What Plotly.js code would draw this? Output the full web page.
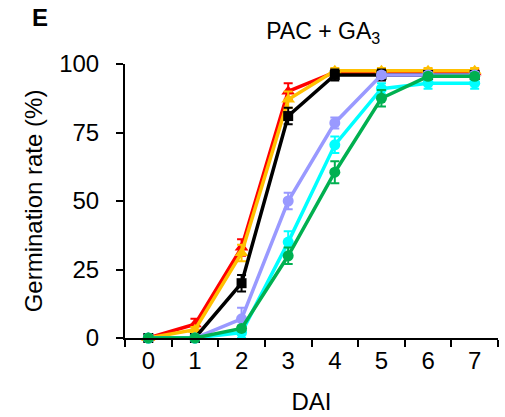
<!DOCTYPE html>
<html>
<head>
<meta charset="utf-8">
<script src="https://cdn.plot.ly/plotly-3.0.1.min.js"></script>
<style>html,body{margin:0;padding:0;background:#fff}#chart{width:505px;height:417px}</style>
</head>
<body>
<div id="chart"></div>
<script>
var days = ["0","1","2","3","4","5","6","7"];
var redVals    = [0, 5, 33, 90, 97, 97, 97, 97];
var redErr     = [0, 2, 3, 3, 1, 1, 1, 1];
var goldVals   = [0, 3, 31, 87, 97.5, 97.5, 97.5, 97.5];
var goldErr    = [0, 1, 3, 3, 1, 1, 1, 1];
var blackVals  = [0, 0, 20, 81, 96, 96, 96, 96];
var blackErr   = [0, 0, 3, 3, 2, 2, 1, 1];
var lavVals    = [0, 0, 7, 50, 78.5, 96, 96, 96];
var lavErr     = [0, 0, 4, 3, 2, 1, 1, 1];
var cyanVals   = [0, 0, 2, 35, 70.5, 91, 93, 93];
var cyanErr    = [0, 0, 2, 4, 3, 2, 2, 2];
var greenVals  = [0, 0, 3.5, 30, 60.5, 87.5, 95.5, 95.5];
var greenErr   = [0, 0, 1, 3, 4, 3, 1, 1];

var font = "Liberation Sans, Arial, sans-serif";
function tr(y, err, color, symbol, size) {
  return {
    x: days, y: y, type: "scatter", mode: "lines+markers",
    line: {color: color, width: 3.5},
    marker: {color: color, symbol: symbol, size: size},
    error_y: {type: "data", array: err, color: color, thickness: 2, width: 4.5},
    cliponaxis: false, showlegend: false
  };
}
var data = [
  tr(redVals, redErr, "#FF0000", "triangle-up", 12),
  tr(goldVals, goldErr, "#FFC000", "triangle-up", 12),
  tr(blackVals, blackErr, "#000000", "square", 10),
  tr(lavVals, lavErr, "#9999FF", "circle", 11),
  tr(cyanVals, cyanErr, "#00FFFF", "circle", 11),
  tr(greenVals, greenErr, "#00B050", "circle", 11)
];
var layout = {
  width: 505, height: 417,
  margin: {l: 125, r: 7, t: 64, b: 79},
  paper_bgcolor: "#fff", plot_bgcolor: "#fff",
  font: {family: font, size: 24, color: "#000"},
  title: {text: "PAC + GA<sub>3</sub>", x: 0.64, xanchor: "center", y: 0.925, yanchor: "middle", font: {family: font, size: 23, color: "#000"}},
  xaxis: {
    type: "category", range: [-0.5, 7.5], showline: true, linecolor: "#000", linewidth: 2,
    ticks: "outside", ticklen: 7, tickwidth: 2, tickcolor: "#000", tickson: "boundaries",
    showgrid: false, zeroline: false, fixedrange: true,
    tickfont: {family: font, size: 24, color: "#000"},
    title: {text: "DAI", font: {family: font, size: 24, color: "#000"}, standoff: 20}
  },
  yaxis: {
    range: [0, 100], tickvals: [0, 25, 50, 75, 100], showline: true, linecolor: "#000", linewidth: 2,
    ticks: "outside", ticklen: 7, tickwidth: 2, tickcolor: "#000", ticklabelstandoff: 12,
    showgrid: false, zeroline: false, fixedrange: true,
    tickfont: {family: font, size: 24, color: "#000"},
    title: {text: "Germination rate (%)", font: {family: font, size: 24, color: "#000"}, standoff: 10}
  },
  annotations: [{
    text: "<b>E</b>", xref: "paper", yref: "paper", x: -0.255, y: 1.17, xanchor: "left", yanchor: "middle",
    showarrow: false, font: {family: font, size: 24, color: "#000"}
  }]
};
Plotly.newPlot("chart", data, layout, {displayModeBar: false, staticPlot: true});
</script>
</body>
</html>
